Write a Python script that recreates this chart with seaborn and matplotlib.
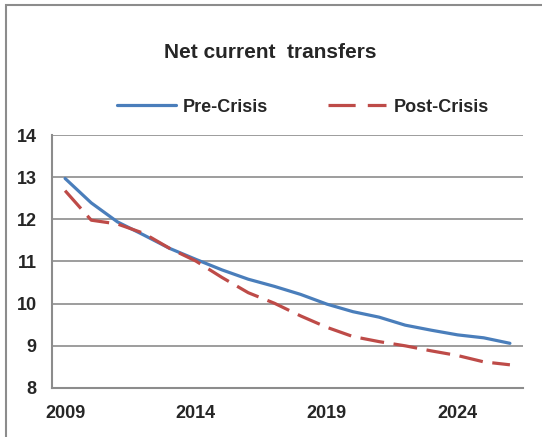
import pandas as pd
import matplotlib.pyplot as plt
import seaborn as sns
from matplotlib.patches import Rectangle
from matplotlib.lines import Line2D

# Data
years = list(range(2009, 2027))
pre_crisis = [12.97, 12.39, 11.94, 11.63, 11.31, 11.05, 10.80, 10.58, 10.41,
              10.22, 9.99, 9.81, 9.68, 9.49, 9.37, 9.26, 9.19, 9.06]
post_crisis = [12.68, 11.98, 11.89, 11.67, 11.31, 11.01, 10.62, 10.26, 10.01,
               9.71, 9.44, 9.22, 9.10, 9.00, 8.88, 8.77, 8.62, 8.55]
series_names = ['Pre-Crisis', 'Post-Crisis']
tick_years = [2009, 2014, 2019, 2024]

df = pd.DataFrame({
    'Year': years * 2,
    'Value': pre_crisis + post_crisis,
    'Series': [series_names[0]] * len(years) + [series_names[1]] * len(years),
})

sns.set_style('white')
plt.rcParams['font.family'] = ['Liberation Sans', 'DejaVu Sans']
plt.rcParams['font.weight'] = 'bold'

blue = '#4A7EBB'
red = '#BE4B48'
gray = '#8C8C8C'

fig = plt.figure(figsize=(5.42, 4.37), dpi=100)
ax = fig.add_axes([52 / 542, 1 - 388 / 437, 471 / 542, 253 / 437])

sns.lineplot(data=df, x='Year', y='Value', hue='Series', style='Series',
             palette=[blue, red], dashes=[(None, None), (7.5, 3)],
             linewidth=2.3, legend=False, ax=ax)

ax.set_xlim(2008.5, 2026.5)
ax.set_ylim(8, 14)
ax.set_yticks(range(8, 15))
ax.set_yticklabels([str(v) for v in range(8, 15)], fontsize=13, fontweight='bold')
ax.set_xticks(tick_years)
ax.set_xticklabels([str(y) for y in tick_years], fontsize=13, fontweight='bold')
ax.set_xticks([y - 0.5 for y in years] + [2026.5], minor=True)
ax.tick_params(axis='x', which='major', length=0, pad=12)
ax.tick_params(axis='x', which='minor', length=5, width=1.2, color=gray, direction='out')
ax.tick_params(axis='y', length=5, width=1.2, color=gray, direction='out', pad=6)
ax.set_xlabel('')
ax.set_ylabel('')

ax.yaxis.grid(True, color=gray, linewidth=1.2)
ax.set_axisbelow(True)
for side in ['top', 'right']:
    ax.spines[side].set_visible(False)
for side in ['left', 'bottom']:
    ax.spines[side].set_color(gray)
    ax.spines[side].set_linewidth(1.5)

fig.text(270 / 542, 1 - 52 / 437, 'Net current  transfers', ha='center', va='center',
         fontsize=15, fontweight='bold')

handles = [Line2D([], [], color=blue, linewidth=2.3),
           Line2D([], [], color=red, linewidth=2.3, dashes=(8.5, 3.8))]
fig.legend(handles, series_names, loc='center', bbox_to_anchor=(303 / 542, 1 - 107 / 437),
           ncol=2, frameon=False, handlelength=3.25, columnspacing=3.3,
           handletextpad=0.4, prop={'weight': 'bold', 'size': 13})

fig.patches.append(Rectangle((6 / 542, -0.1), 1.1, 1.1 - 5 / 437,
                             transform=fig.transFigure, fill=False,
                             edgecolor=gray, linewidth=1.5))

fig.savefig('out.png', dpi=100)
